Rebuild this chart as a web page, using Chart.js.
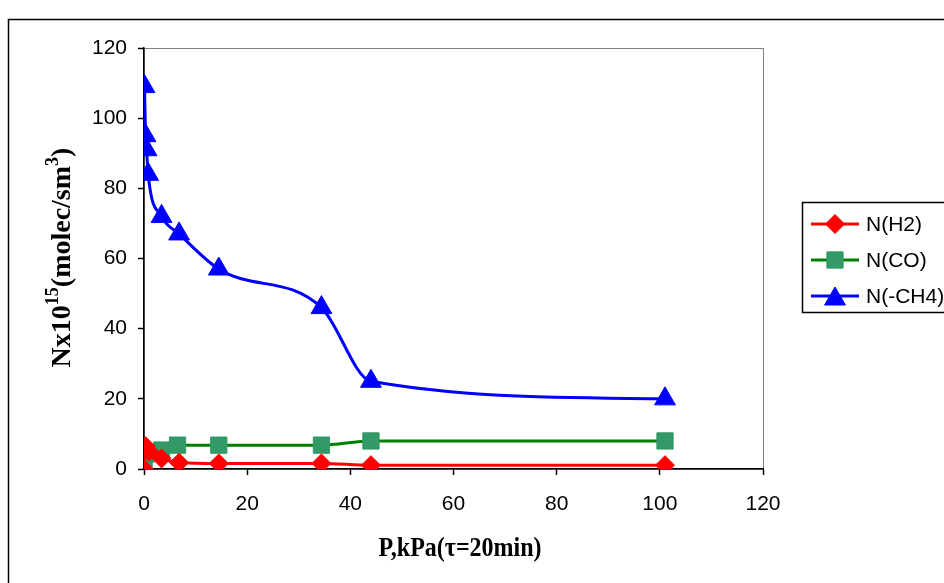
<!DOCTYPE html>
<html>
<head>
<meta charset="utf-8">
<script src="https://cdn.jsdelivr.net/npm/chart.js@4.4.0/dist/chart.umd.min.js"></script>
<style>
html,body{margin:0;padding:0;background:#fff;}
#wrap{width:944px;height:583px;position:relative;}
</style>
</head>
<body>
<div id="wrap"><canvas id="c" width="944" height="583"></canvas></div>
<script>
// ---- data ----
const seriesNames = ['N(H2)', 'N(CO)', 'N(-CH4)'];
const pressureH2 = [0, 0.3, 1, 3.4, 6.8, 14.5, 34.4, 44, 101];
const valuesH2   = [0, 6.5, 5, 3, 1.8, 1.6, 1.6, 1.1, 1.1];
const pressureCO = [0, 0.3, 2.8, 3.4, 6.5, 14.5, 34.4, 44, 101];
const valuesCO   = [0.6, 4.2, 4.6, 5.4, 6.8, 6.8, 6.8, 8, 8];
const pressureCH4 = [0.1, 0.3, 0.5, 0.8, 3.4, 6.8, 14.5, 34.4, 44, 101];
const valuesCH4   = [109, 95, 91, 84, 72, 67, 57, 46, 25, 20];
const xTicks = [0, 20, 40, 60, 80, 100, 120];
const yTicks = [0, 20, 40, 60, 80, 100, 120];

function pts(xs, ys){ return xs.map((x,i)=>({x:x, y:ys[i]})); }

const SANS = '"Liberation Sans", Arial, sans-serif';
const SERIF = '"Liberation Serif", "Times New Roman", serif';

const decorPlugin = {
  id: 'decor',
  beforeDraw(chart){
    const ctx = chart.ctx, a = chart.chartArea;
    ctx.save();
    ctx.fillStyle = '#fff';
    ctx.fillRect(0,0,chart.width,chart.height);
    ctx.strokeStyle = '#000';
    ctx.lineWidth = 1.5;
    ctx.strokeRect(8.5, 19.5, 1200, 1200);
    ctx.strokeStyle = '#808080';
    ctx.lineWidth = 1;
    ctx.strokeRect(a.left+0.5, a.top+0.5, a.right-a.left, a.bottom-a.top);
    ctx.restore();
  },
  afterDraw(chart){
    const ctx = chart.ctx, a = chart.chartArea;
    ctx.save();
    ctx.fillStyle = '#000';
    // x title (slightly tall glyphs as in the reference)
    ctx.font = 'bold 24px ' + SERIF;
    ctx.textAlign = 'center';
    ctx.textBaseline = 'alphabetic';
    ctx.save();
    ctx.translate(460, 556);
    ctx.scale(1, 1.18);
    ctx.fillText('P,kPa(\u03c4=20min)', 0, 0);
    ctx.restore();
    // y title with superscripts
    const parts = [['Nx10',0],['15',1],['(molec/sm',0],['3',1],[')',0]];
    const big = 'bold 28px ' + SERIF, small = 'bold 18px ' + SERIF;
    let total = 0;
    parts.forEach(p=>{ ctx.font = p[1]?small:big; total += ctx.measureText(p[0]).width; });
    ctx.translate(69.5, 257.5);
    ctx.rotate(-Math.PI/2);
    ctx.textAlign = 'left';
    let x = -total/2;
    parts.forEach(p=>{
      ctx.font = p[1]?small:big;
      ctx.fillText(p[0], x, p[1]? -12 : 0);
      x += ctx.measureText(p[0]).width;
    });
    ctx.restore();

    // legend
    ctx.save();
    const lx = 802, ly = 202;
    ctx.strokeStyle = '#000'; ctx.lineWidth = 1.5;
    ctx.strokeRect(lx+0.5, ly+0.5, 200, 110);
    ctx.font = '21px ' + SANS;
    ctx.textBaseline = 'middle';
    chart.data.datasets.forEach((ds,i)=>{
      const y = 224 + i*36;
      ctx.strokeStyle = ds.borderColor; ctx.lineWidth = 3;
      ctx.beginPath(); ctx.moveTo(811,y); ctx.lineTo(859,y); ctx.stroke();
      ctx.fillStyle = ds.pointBackgroundColor;
      ctx.strokeStyle = ds.pointBorderColor;
      ctx.lineWidth = 1;
      const r = ds.pointRadius;
      Chart.helpers.drawPoint(ctx, {pointStyle: ds.pointStyle, radius: r, rotation:0, borderWidth:1},
        835, y + (ds.pointStyle==='triangle' ? r/4 : 0));
      ctx.fillStyle = '#000';
      ctx.fillText(seriesNames[i], 866, y+1);
    });
    ctx.restore();
  }
};

new Chart(document.getElementById('c'), {
  type: 'scatter',
  data: {
    datasets: [
      {label: seriesNames[0], data: pts(pressureH2, valuesH2), showLine:true, cubicInterpolationMode:'monotone',
       borderColor:'#ff0000', borderWidth:3, pointStyle:'rectRot', pointRadius:9.5,
       pointBackgroundColor:'#ff0000', pointBorderColor:'#ff0000', pointBorderWidth:1},
      {label: seriesNames[1], data: pts(pressureCO, valuesCO), showLine:true, cubicInterpolationMode:'monotone',
       borderColor:'#008000', borderWidth:3, pointStyle:'rect', pointRadius:11.5,
       pointBackgroundColor:'#339966', pointBorderColor:'#339966', pointBorderWidth:1},
      {label: seriesNames[2], data: pts(pressureCH4, valuesCH4), showLine:true, cubicInterpolationMode:'monotone',
       borderColor:'#0000ff', borderWidth:3, pointStyle:'triangle', pointRadius:12,
       pointBackgroundColor:'#0000ff', pointBorderColor:'#0000ff', pointBorderWidth:1}
    ]
  },
  options: {
    responsive:false, animation:false, events:[],
    layout:{padding:{left:0, top:48, right:181, bottom:0}},
    plugins:{legend:{display:false}, tooltip:{enabled:false}},
    scales:{
      x:{type:'linear', min:0, max:120,
        afterFit(s){ s.height = 114; },
        afterBuildTicks(s){ s.ticks = xTicks.map(v=>({value:v})); },
        grid:{drawOnChartArea:false, drawTicks:true, tickLength:6, color:'#000', tickWidth:1.5},
        border:{display:true, color:'#000', width:1.5},
        ticks:{color:'#000', font:{family:SANS, size:21}, padding:17, maxRotation:0}},
      y:{type:'linear', min:0, max:120,
        afterFit(s){ s.width = 144; },
        afterBuildTicks(s){ s.ticks = yTicks.map(v=>({value:v})); },
        grid:{drawOnChartArea:false, drawTicks:true, tickLength:6, color:'#000', tickWidth:1.5},
        border:{display:true, color:'#000', width:1.5},
        ticks:{color:'#000', font:{family:SANS, size:21}, padding:11}}
    }
  },
  plugins:[decorPlugin]
});
</script>
</body>
</html>
